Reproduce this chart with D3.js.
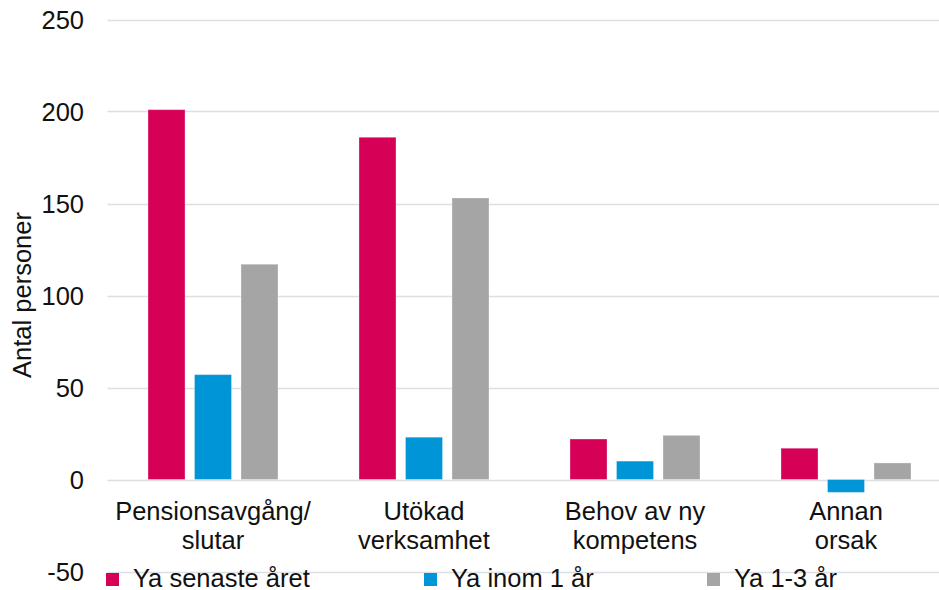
<!DOCTYPE html>
<html>
<head>
<meta charset="utf-8">
<script src="https://cdn.jsdelivr.net/npm/d3@7"></script>
<style>
  html, body { margin: 0; padding: 0; background: #fff; }
  svg { display: block; font-family: "Liberation Sans", Arial, sans-serif; }
</style>
</head>
<body>
<svg id="chart" width="939" height="590"></svg>
<script>
// Reasons for recruitment, number of persons per time horizon
const categories = [["Pensionsavgång/", "slutar"], ["Utökad", "verksamhet"], ["Behov av ny", "kompetens"], ["Annan", "orsak"]];
const categoryKeys = ["Pensionsavgång/slutar", "Utökad verksamhet", "Behov av ny kompetens", "Annan orsak"];
const seriesNames = ["Ya senaste året", "Ya inom 1 år", "Ya 1-3 år"];
const seriesColors = ["#D70057", "#0095D7", "#A5A5A5"];
const senasteAret = [201, 186, 22, 17];
const inom1Ar = [57, 23, 10, -7];
const ar1till3 = [117, 153, 24, 9];
const yTicks = [-50, 0, 50, 100, 150, 200, 250];
const yTitle = "Antal personer";

const seriesValues = [senasteAret, inom1Ar, ar1till3];

const svg = d3.select("#chart");
const plotLeft = 107.5, plotRight = 951.5, visibleRight = 939;
const fontSize = 25.5;
const textColor = "#111";

const y = d3.scaleLinear().domain([-50, 250]).range([571.5, 19.5]);
const x0 = d3.scaleBand().domain(categoryKeys).range([plotLeft, plotRight]).paddingInner(0).paddingOuter(0);
const x1 = d3.scaleBand().domain(seriesNames).range([0, x0.bandwidth()]).paddingInner(0.204).paddingOuter(0.871);

// Horizontal gridlines
svg.append("g").selectAll("line").data(yTicks).join("line")
  .attr("x1", plotLeft).attr("x2", visibleRight)
  .attr("y1", d => Math.round(y(d)) + 0.5).attr("y2", d => Math.round(y(d)) + 0.5)
  .attr("stroke", "#DCDFE4").attr("stroke-width", 1.3);

// Y tick labels
svg.append("g").selectAll("text").data(yTicks).join("text")
  .attr("x", 84).attr("y", d => y(d))
  .attr("dy", "0.36em")
  .attr("text-anchor", "end")
  .attr("font-size", fontSize).attr("fill", textColor)
  .text(d => d);

// Y axis title
svg.append("text")
  .attr("transform", `translate(31, 295) rotate(-90)`)
  .attr("text-anchor", "middle")
  .attr("font-size", fontSize).attr("fill", textColor)
  .text(yTitle);

// Bars
const bars = [];
categoryKeys.forEach((c, ci) => {
  seriesNames.forEach((s, si) => {
    bars.push({ cat: c, series: s, value: seriesValues[si][ci], color: seriesColors[si] });
  });
});
svg.append("g").selectAll("rect").data(bars).join("rect")
  .attr("x", d => x0(d.cat) + x1(d.series))
  .attr("width", x1.bandwidth())
  .attr("y", d => y(Math.max(0, d.value)))
  .attr("height", d => Math.abs(y(d.value) - y(0)))
  .attr("fill", d => d.color)
  .attr("stroke", "rgba(255,255,255,0.3)")
  .attr("stroke-width", 1);

// Category labels
const catG = svg.append("g").selectAll("text").data(categories).join("text")
  .attr("x", (d, i) => x0(categoryKeys[i]) + x0.bandwidth() / 2)
  .attr("y", 520)
  .attr("text-anchor", "middle")
  .attr("font-size", fontSize).attr("fill", textColor);
catG.selectAll("tspan").data(d => d).join("tspan")
  .attr("x", function() { return this.parentNode.getAttribute("x"); })
  .attr("dy", (d, i) => i === 0 ? 0 : 28.5)
  .text(d => d);

// Legend
const legendX = [106, 424, 707];
const legend = svg.append("g").selectAll("g").data(seriesNames).join("g")
  .attr("transform", (d, i) => `translate(${legendX[i]}, 573)`);
legend.append("rect").attr("width", 13).attr("height", 13).attr("fill", (d, i) => seriesColors[i]);
legend.append("text").attr("x", 27).attr("y", 13.5)
  .attr("font-size", fontSize).attr("fill", textColor)
  .text(d => d);
</script>
</body>
</html>
